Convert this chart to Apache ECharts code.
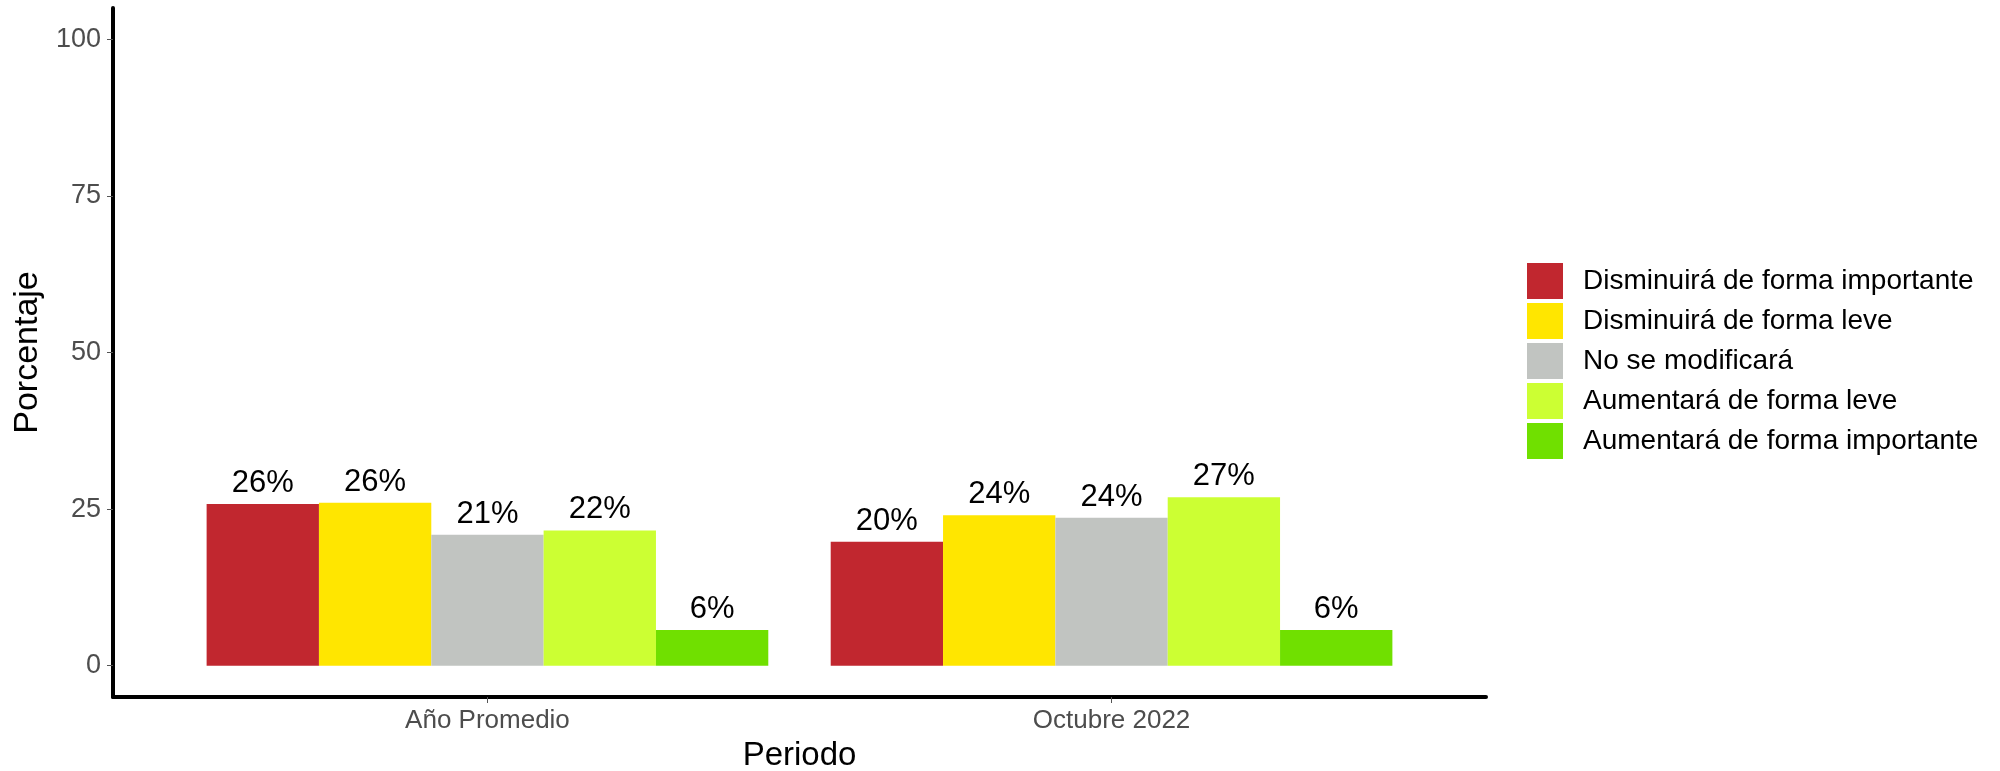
<!DOCTYPE html>
<html>
<head>
<meta charset="utf-8">
<script src="https://cdn.jsdelivr.net/npm/echarts@6/dist/echarts.min.js"></script>
<style>html,body{margin:0;padding:0;background:#fff;}#chart{width:2000px;height:771px;}</style>
</head>
<body>
<div id="chart"></div>
<script>
const categories = ['Año Promedio', 'Octubre 2022'];
const seriesNames = ['Disminuirá de forma importante', 'Disminuirá de forma leve', 'No se modificará', 'Aumentará de forma leve', 'Aumentará de forma importante'];
const disminuiraImportante = [25.8, 19.8];
const disminuiraLeve = [26.0, 24.0];
const noSeModificara = [20.9, 23.6];
const aumentaraLeve = [21.6, 26.9];
const aumentaraImportante = [5.7, 5.7];
const yTicks = [0, 25, 50, 75, 100];
const colors = ['#C1272F', '#FFE600', '#C1C4C1', '#CCFF33', '#70E000'];

const allValues = [disminuiraImportante, disminuiraLeve, noSeModificara, aumentaraLeve, aumentaraImportante];
const FONT = '"Liberation Sans", Arial, Helvetica, sans-serif';

const chart = echarts.init(document.getElementById('chart'), null, {renderer: 'canvas'});
chart.setOption({
  animation: false,
  color: colors,
  textStyle: {fontFamily: FONT},
  grid: {left: 113, right: 514, top: 8, bottom: 74, containLabel: false, outerBoundsMode: 'none'},
  legend: {
    orient: 'vertical',
    left: 1527,
    top: 263,
    padding: 0,
    itemWidth: 36,
    itemHeight: 36,
    itemGap: 4,
    icon: 'rect',
    data: seriesNames,
    textStyle: {fontSize: 28, color: '#000', fontFamily: FONT, padding: [0, 0, 0, 15]}
  },
  xAxis: {
    type: 'value',
    min: 0.4,
    max: 2.6,
    name: 'Periodo',
    nameLocation: 'middle',
    nameGap: 42,
    nameTextStyle: {fontSize: 33, color: '#000', fontFamily: FONT},
    axisLine: {show: true, onZero: false, lineStyle: {color: '#000', width: 4}},
    axisTick: {show: true, customValues: [1, 2], length: 6, lineStyle: {color: '#555', width: 1}},
    axisLabel: {
      customValues: [1, 2],
      margin: 11,
      fontSize: 26,
      color: '#4D4D4D',
      fontFamily: FONT,
      formatter: function (v) { return categories[Math.round(v) - 1] || ''; }
    },
    splitLine: {show: false}
  },
  yAxis: {
    type: 'value',
    min: -5,
    max: 105,
    name: 'Porcentaje',
    nameLocation: 'middle',
    nameGap: 60,
    nameTextStyle: {fontSize: 34, color: '#000', fontFamily: FONT},
    axisLine: {show: true, onZero: false, lineStyle: {color: '#000', width: 4}},
    axisTick: {show: true, customValues: yTicks, length: 6, lineStyle: {color: '#555', width: 1}},
    axisLabel: {customValues: yTicks, margin: 12, fontSize: 27, color: '#4D4D4D', fontFamily: FONT},
    splitLine: {show: false}
  },
  series: seriesNames.map(function (name, i) {
    return {
      name: name,
      type: 'bar',
      barGap: '0%',
      barCategoryGap: '10%',
      data: allValues[i].map(function (v, j) { return [j + 1, v]; }),
      itemStyle: {color: colors[i]},
      label: {
        show: true,
        position: 'top',
        distance: 5,
        fontSize: 31,
        color: '#000',
        fontFamily: FONT,
        formatter: function (p) { return Math.round(p.value[1]) + '%'; }
      }
    };
  })
});
</script>
</body>
</html>
